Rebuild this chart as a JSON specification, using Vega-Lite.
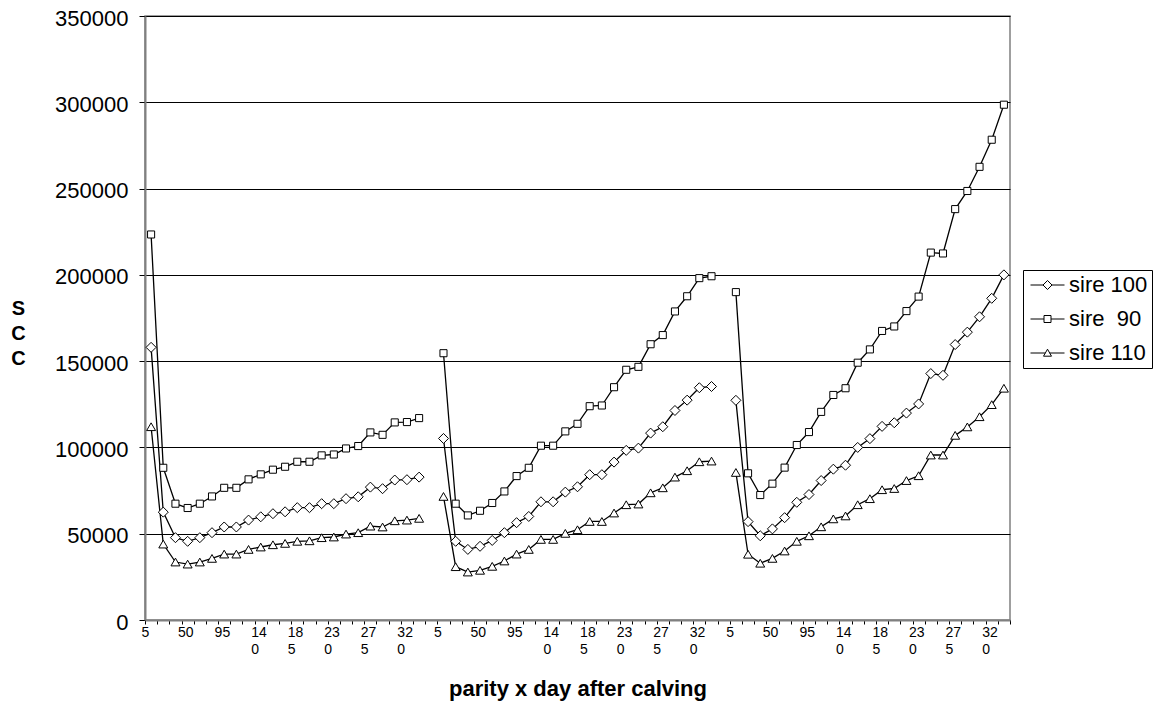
{
  "$schema": "https://vega.github.io/schema/vega-lite/v6.json",
  "width": 865,
  "height": 604,
  "autosize": "none",
  "padding": {"left": 145, "top": 16, "right": 164, "bottom": 85},
  "background": "white",
  "config": {"font": "Liberation Sans", "view": {"stroke": "#808080", "strokeWidth": 1.5}},
  "data": {"values": [
    {"series":"sire 100","parity":1,"day":5,"idx":0,"scc":158000},
    {"series":"sire 100","parity":1,"day":20,"idx":1,"scc":62500},
    {"series":"sire 100","parity":1,"day":35,"idx":2,"scc":47700},
    {"series":"sire 100","parity":1,"day":50,"idx":3,"scc":45600},
    {"series":"sire 100","parity":1,"day":65,"idx":4,"scc":47700},
    {"series":"sire 100","parity":1,"day":80,"idx":5,"scc":50600},
    {"series":"sire 100","parity":1,"day":95,"idx":6,"scc":53900},
    {"series":"sire 100","parity":1,"day":110,"idx":7,"scc":53900},
    {"series":"sire 100","parity":1,"day":125,"idx":8,"scc":57900},
    {"series":"sire 100","parity":1,"day":140,"idx":9,"scc":59800},
    {"series":"sire 100","parity":1,"day":155,"idx":10,"scc":61600},
    {"series":"sire 100","parity":1,"day":170,"idx":11,"scc":62700},
    {"series":"sire 100","parity":1,"day":185,"idx":12,"scc":65100},
    {"series":"sire 100","parity":1,"day":200,"idx":13,"scc":65100},
    {"series":"sire 100","parity":1,"day":215,"idx":14,"scc":67400},
    {"series":"sire 100","parity":1,"day":230,"idx":15,"scc":67400},
    {"series":"sire 100","parity":1,"day":245,"idx":16,"scc":70300},
    {"series":"sire 100","parity":1,"day":260,"idx":17,"scc":71400},
    {"series":"sire 100","parity":1,"day":275,"idx":18,"scc":77000},
    {"series":"sire 100","parity":1,"day":290,"idx":19,"scc":76100},
    {"series":"sire 100","parity":1,"day":305,"idx":20,"scc":81100},
    {"series":"sire 100","parity":1,"day":320,"idx":21,"scc":81300},
    {"series":"sire 100","parity":1,"day":335,"idx":22,"scc":82800},
    {"series":"sire 100","parity":2,"day":5,"idx":24,"scc":105200},
    {"series":"sire 100","parity":2,"day":20,"idx":25,"scc":45600},
    {"series":"sire 100","parity":2,"day":35,"idx":26,"scc":40900},
    {"series":"sire 100","parity":2,"day":50,"idx":27,"scc":42700},
    {"series":"sire 100","parity":2,"day":65,"idx":28,"scc":46100},
    {"series":"sire 100","parity":2,"day":80,"idx":29,"scc":50600},
    {"series":"sire 100","parity":2,"day":95,"idx":30,"scc":56400},
    {"series":"sire 100","parity":2,"day":110,"idx":31,"scc":60000},
    {"series":"sire 100","parity":2,"day":125,"idx":32,"scc":68500},
    {"series":"sire 100","parity":2,"day":140,"idx":33,"scc":68500},
    {"series":"sire 100","parity":2,"day":155,"idx":34,"scc":74100},
    {"series":"sire 100","parity":2,"day":170,"idx":35,"scc":77200},
    {"series":"sire 100","parity":2,"day":185,"idx":36,"scc":84200},
    {"series":"sire 100","parity":2,"day":200,"idx":37,"scc":84200},
    {"series":"sire 100","parity":2,"day":215,"idx":38,"scc":91500},
    {"series":"sire 100","parity":2,"day":230,"idx":39,"scc":98300},
    {"series":"sire 100","parity":2,"day":245,"idx":40,"scc":99600},
    {"series":"sire 100","parity":2,"day":260,"idx":41,"scc":108300},
    {"series":"sire 100","parity":2,"day":275,"idx":42,"scc":112000},
    {"series":"sire 100","parity":2,"day":290,"idx":43,"scc":121400},
    {"series":"sire 100","parity":2,"day":305,"idx":44,"scc":127400},
    {"series":"sire 100","parity":2,"day":320,"idx":45,"scc":134600},
    {"series":"sire 100","parity":2,"day":335,"idx":46,"scc":135300},
    {"series":"sire 100","parity":3,"day":5,"idx":48,"scc":127300},
    {"series":"sire 100","parity":3,"day":20,"idx":49,"scc":57000},
    {"series":"sire 100","parity":3,"day":35,"idx":50,"scc":48800},
    {"series":"sire 100","parity":3,"day":50,"idx":51,"scc":52800},
    {"series":"sire 100","parity":3,"day":65,"idx":52,"scc":59300},
    {"series":"sire 100","parity":3,"day":80,"idx":53,"scc":68200},
    {"series":"sire 100","parity":3,"day":95,"idx":54,"scc":72700},
    {"series":"sire 100","parity":3,"day":110,"idx":55,"scc":80800},
    {"series":"sire 100","parity":3,"day":125,"idx":56,"scc":87400},
    {"series":"sire 100","parity":3,"day":140,"idx":57,"scc":89700},
    {"series":"sire 100","parity":3,"day":155,"idx":58,"scc":100000},
    {"series":"sire 100","parity":3,"day":170,"idx":59,"scc":105100},
    {"series":"sire 100","parity":3,"day":185,"idx":60,"scc":112200},
    {"series":"sire 100","parity":3,"day":200,"idx":61,"scc":114300},
    {"series":"sire 100","parity":3,"day":215,"idx":62,"scc":119900},
    {"series":"sire 100","parity":3,"day":230,"idx":63,"scc":125200},
    {"series":"sire 100","parity":3,"day":245,"idx":64,"scc":142800},
    {"series":"sire 100","parity":3,"day":260,"idx":65,"scc":141800},
    {"series":"sire 100","parity":3,"day":275,"idx":66,"scc":159600},
    {"series":"sire 100","parity":3,"day":290,"idx":67,"scc":166800},
    {"series":"sire 100","parity":3,"day":305,"idx":68,"scc":175700},
    {"series":"sire 100","parity":3,"day":320,"idx":69,"scc":186400},
    {"series":"sire 100","parity":3,"day":335,"idx":70,"scc":200000},
    {"series":"sire  90","parity":1,"day":5,"idx":0,"scc":223400},
    {"series":"sire  90","parity":1,"day":20,"idx":1,"scc":88200},
    {"series":"sire  90","parity":1,"day":35,"idx":2,"scc":67400},
    {"series":"sire  90","parity":1,"day":50,"idx":3,"scc":64900},
    {"series":"sire  90","parity":1,"day":65,"idx":4,"scc":67400},
    {"series":"sire  90","parity":1,"day":80,"idx":5,"scc":71600},
    {"series":"sire  90","parity":1,"day":95,"idx":6,"scc":76600},
    {"series":"sire  90","parity":1,"day":110,"idx":7,"scc":76600},
    {"series":"sire  90","parity":1,"day":125,"idx":8,"scc":81500},
    {"series":"sire  90","parity":1,"day":140,"idx":9,"scc":84400},
    {"series":"sire  90","parity":1,"day":155,"idx":10,"scc":87100},
    {"series":"sire  90","parity":1,"day":170,"idx":11,"scc":88800},
    {"series":"sire  90","parity":1,"day":185,"idx":12,"scc":91700},
    {"series":"sire  90","parity":1,"day":200,"idx":13,"scc":91700},
    {"series":"sire  90","parity":1,"day":215,"idx":14,"scc":95400},
    {"series":"sire  90","parity":1,"day":230,"idx":15,"scc":95900},
    {"series":"sire  90","parity":1,"day":245,"idx":16,"scc":99400},
    {"series":"sire  90","parity":1,"day":260,"idx":17,"scc":100800},
    {"series":"sire  90","parity":1,"day":275,"idx":18,"scc":108700},
    {"series":"sire  90","parity":1,"day":290,"idx":19,"scc":107300},
    {"series":"sire  90","parity":1,"day":305,"idx":20,"scc":114500},
    {"series":"sire  90","parity":1,"day":320,"idx":21,"scc":114700},
    {"series":"sire  90","parity":1,"day":335,"idx":22,"scc":117000},
    {"series":"sire  90","parity":2,"day":5,"idx":24,"scc":154600},
    {"series":"sire  90","parity":2,"day":20,"idx":25,"scc":67400},
    {"series":"sire  90","parity":2,"day":35,"idx":26,"scc":60600},
    {"series":"sire  90","parity":2,"day":50,"idx":27,"scc":63300},
    {"series":"sire  90","parity":2,"day":65,"idx":28,"scc":67800},
    {"series":"sire  90","parity":2,"day":80,"idx":29,"scc":74500},
    {"series":"sire  90","parity":2,"day":95,"idx":30,"scc":83400},
    {"series":"sire  90","parity":2,"day":110,"idx":31,"scc":88200},
    {"series":"sire  90","parity":2,"day":125,"idx":32,"scc":101000},
    {"series":"sire  90","parity":2,"day":140,"idx":33,"scc":101000},
    {"series":"sire  90","parity":2,"day":155,"idx":34,"scc":109300},
    {"series":"sire  90","parity":2,"day":170,"idx":35,"scc":113700},
    {"series":"sire  90","parity":2,"day":185,"idx":36,"scc":123900},
    {"series":"sire  90","parity":2,"day":200,"idx":37,"scc":124300},
    {"series":"sire  90","parity":2,"day":215,"idx":38,"scc":134900},
    {"series":"sire  90","parity":2,"day":230,"idx":39,"scc":145000},
    {"series":"sire  90","parity":2,"day":245,"idx":40,"scc":146700},
    {"series":"sire  90","parity":2,"day":260,"idx":41,"scc":159800},
    {"series":"sire  90","parity":2,"day":275,"idx":42,"scc":165100},
    {"series":"sire  90","parity":2,"day":290,"idx":43,"scc":178800},
    {"series":"sire  90","parity":2,"day":305,"idx":44,"scc":187600},
    {"series":"sire  90","parity":2,"day":320,"idx":45,"scc":198100},
    {"series":"sire  90","parity":2,"day":335,"idx":46,"scc":199200},
    {"series":"sire  90","parity":3,"day":5,"idx":48,"scc":190000},
    {"series":"sire  90","parity":3,"day":20,"idx":49,"scc":85000},
    {"series":"sire  90","parity":3,"day":35,"idx":50,"scc":72400},
    {"series":"sire  90","parity":3,"day":50,"idx":51,"scc":79000},
    {"series":"sire  90","parity":3,"day":65,"idx":52,"scc":88300},
    {"series":"sire  90","parity":3,"day":80,"idx":53,"scc":101400},
    {"series":"sire  90","parity":3,"day":95,"idx":54,"scc":108900},
    {"series":"sire  90","parity":3,"day":110,"idx":55,"scc":120600},
    {"series":"sire  90","parity":3,"day":125,"idx":56,"scc":130400},
    {"series":"sire  90","parity":3,"day":140,"idx":57,"scc":134300},
    {"series":"sire  90","parity":3,"day":155,"idx":58,"scc":149100},
    {"series":"sire  90","parity":3,"day":170,"idx":59,"scc":156800},
    {"series":"sire  90","parity":3,"day":185,"idx":60,"scc":167500},
    {"series":"sire  90","parity":3,"day":200,"idx":61,"scc":170100},
    {"series":"sire  90","parity":3,"day":215,"idx":62,"scc":179000},
    {"series":"sire  90","parity":3,"day":230,"idx":63,"scc":187400},
    {"series":"sire  90","parity":3,"day":245,"idx":64,"scc":212900},
    {"series":"sire  90","parity":3,"day":260,"idx":65,"scc":212400},
    {"series":"sire  90","parity":3,"day":275,"idx":66,"scc":238100},
    {"series":"sire  90","parity":3,"day":290,"idx":67,"scc":248600},
    {"series":"sire  90","parity":3,"day":305,"idx":68,"scc":262600},
    {"series":"sire  90","parity":3,"day":320,"idx":69,"scc":278300},
    {"series":"sire  90","parity":3,"day":335,"idx":70,"scc":298600},
    {"series":"sire 110","parity":1,"day":5,"idx":0,"scc":112000},
    {"series":"sire 110","parity":1,"day":20,"idx":1,"scc":44000},
    {"series":"sire 110","parity":1,"day":35,"idx":2,"scc":33600},
    {"series":"sire 110","parity":1,"day":50,"idx":3,"scc":32400},
    {"series":"sire 110","parity":1,"day":65,"idx":4,"scc":33600},
    {"series":"sire 110","parity":1,"day":80,"idx":5,"scc":35700},
    {"series":"sire 110","parity":1,"day":95,"idx":6,"scc":38200},
    {"series":"sire 110","parity":1,"day":110,"idx":7,"scc":38200},
    {"series":"sire 110","parity":1,"day":125,"idx":8,"scc":40900},
    {"series":"sire 110","parity":1,"day":140,"idx":9,"scc":42300},
    {"series":"sire 110","parity":1,"day":155,"idx":10,"scc":43600},
    {"series":"sire 110","parity":1,"day":170,"idx":11,"scc":44400},
    {"series":"sire 110","parity":1,"day":185,"idx":12,"scc":45600},
    {"series":"sire 110","parity":1,"day":200,"idx":13,"scc":45900},
    {"series":"sire 110","parity":1,"day":215,"idx":14,"scc":47700},
    {"series":"sire 110","parity":1,"day":230,"idx":15,"scc":48100},
    {"series":"sire 110","parity":1,"day":245,"idx":16,"scc":49800},
    {"series":"sire 110","parity":1,"day":260,"idx":17,"scc":50600},
    {"series":"sire 110","parity":1,"day":275,"idx":18,"scc":54400},
    {"series":"sire 110","parity":1,"day":290,"idx":19,"scc":53900},
    {"series":"sire 110","parity":1,"day":305,"idx":20,"scc":57500},
    {"series":"sire 110","parity":1,"day":320,"idx":21,"scc":57900},
    {"series":"sire 110","parity":1,"day":335,"idx":22,"scc":58900},
    {"series":"sire 110","parity":2,"day":5,"idx":24,"scc":71600},
    {"series":"sire 110","parity":2,"day":20,"idx":25,"scc":30900},
    {"series":"sire 110","parity":2,"day":35,"idx":26,"scc":27800},
    {"series":"sire 110","parity":2,"day":50,"idx":27,"scc":28800},
    {"series":"sire 110","parity":2,"day":65,"idx":28,"scc":31100},
    {"series":"sire 110","parity":2,"day":80,"idx":29,"scc":34200},
    {"series":"sire 110","parity":2,"day":95,"idx":30,"scc":38200},
    {"series":"sire 110","parity":2,"day":110,"idx":31,"scc":40900},
    {"series":"sire 110","parity":2,"day":125,"idx":32,"scc":46700},
    {"series":"sire 110","parity":2,"day":140,"idx":33,"scc":46700},
    {"series":"sire 110","parity":2,"day":155,"idx":34,"scc":50200},
    {"series":"sire 110","parity":2,"day":170,"idx":35,"scc":52300},
    {"series":"sire 110","parity":2,"day":185,"idx":36,"scc":57100},
    {"series":"sire 110","parity":2,"day":200,"idx":37,"scc":57100},
    {"series":"sire 110","parity":2,"day":215,"idx":38,"scc":62000},
    {"series":"sire 110","parity":2,"day":230,"idx":39,"scc":66800},
    {"series":"sire 110","parity":2,"day":245,"idx":40,"scc":67200},
    {"series":"sire 110","parity":2,"day":260,"idx":41,"scc":73700},
    {"series":"sire 110","parity":2,"day":275,"idx":42,"scc":76600},
    {"series":"sire 110","parity":2,"day":290,"idx":43,"scc":82800},
    {"series":"sire 110","parity":2,"day":305,"idx":44,"scc":86500},
    {"series":"sire 110","parity":2,"day":320,"idx":45,"scc":91700},
    {"series":"sire 110","parity":2,"day":335,"idx":46,"scc":92100},
    {"series":"sire 110","parity":3,"day":5,"idx":48,"scc":85500},
    {"series":"sire 110","parity":3,"day":20,"idx":49,"scc":38100},
    {"series":"sire 110","parity":3,"day":35,"idx":50,"scc":32900},
    {"series":"sire 110","parity":3,"day":50,"idx":51,"scc":35700},
    {"series":"sire 110","parity":3,"day":65,"idx":52,"scc":40000},
    {"series":"sire 110","parity":3,"day":80,"idx":53,"scc":45600},
    {"series":"sire 110","parity":3,"day":95,"idx":54,"scc":48800},
    {"series":"sire 110","parity":3,"day":110,"idx":55,"scc":54000},
    {"series":"sire 110","parity":3,"day":125,"idx":56,"scc":58600},
    {"series":"sire 110","parity":3,"day":140,"idx":57,"scc":60300},
    {"series":"sire 110","parity":3,"day":155,"idx":58,"scc":66800},
    {"series":"sire 110","parity":3,"day":170,"idx":59,"scc":70300},
    {"series":"sire 110","parity":3,"day":185,"idx":60,"scc":75500},
    {"series":"sire 110","parity":3,"day":200,"idx":61,"scc":76200},
    {"series":"sire 110","parity":3,"day":215,"idx":62,"scc":80800},
    {"series":"sire 110","parity":3,"day":230,"idx":63,"scc":83600},
    {"series":"sire 110","parity":3,"day":245,"idx":64,"scc":95600},
    {"series":"sire 110","parity":3,"day":260,"idx":65,"scc":95600},
    {"series":"sire 110","parity":3,"day":275,"idx":66,"scc":107000},
    {"series":"sire 110","parity":3,"day":290,"idx":67,"scc":111900},
    {"series":"sire 110","parity":3,"day":305,"idx":68,"scc":117800},
    {"series":"sire 110","parity":3,"day":320,"idx":69,"scc":124800},
    {"series":"sire 110","parity":3,"day":335,"idx":70,"scc":134300}
  ]},
  "resolve": {"scale": {"shape": "independent"}},
  "layer": [
    {
      "mark": {"type": "line", "color": "black", "strokeWidth": 1.3},
      "encoding": {
        "x": {
          "field": "idx", "type": "quantitative",
          "scale": {"domain": [-0.5, 70.5], "nice": false, "zero": false},
          "axis": {
            "values": [-0.5,0.5,1.5,2.5,3.5,4.5,5.5,6.5,7.5,8.5,9.5,10.5,11.5,12.5,13.5,14.5,15.5,16.5,17.5,18.5,19.5,20.5,21.5,22.5,23.5,24.5,25.5,26.5,27.5,28.5,29.5,30.5,31.5,32.5,33.5,34.5,35.5,36.5,37.5,38.5,39.5,40.5,41.5,42.5,43.5,44.5,45.5,46.5,47.5,48.5,49.5,50.5,51.5,52.5,53.5,54.5,55.5,56.5,57.5,58.5,59.5,60.5,61.5,62.5,63.5,64.5,65.5,66.5,67.5,68.5,69.5,70.5],
            "tickCount": 200,
            "labelExpr": "(datum.value + 0.5) % 3 == 0 ? ((5 + 15 * ((datum.value + 0.5) % 24)) < 100 ? '' + (5 + 15 * ((datum.value + 0.5) % 24)) : [substring('' + (5 + 15 * ((datum.value + 0.5) % 24)), 0, 2), substring('' + (5 + 15 * ((datum.value + 0.5) % 24)), 2, 3)]) : ''",
            "title": "parity x day after calving",
            "titleFontSize": 22, "titleFontWeight": "bold", "titleColor": "black",
            "titleY": 75, "titleBaseline": "alphabetic",
            "labelFontSize": 14, "labelAlign": "left", "labelOffset": -4, "labelPadding": 1,
            "labelLineHeight": 17, "labelOverlap": false, "labelFlush": false, "labelBound": false,
            "labelColor": "black",
            "tickSize": 4, "tickColor": "black", "tickWidth": 1,
            "domainColor": "#808080", "domainWidth": 2, "grid": false
          }
        },
        "y": {
          "field": "scc", "type": "quantitative",
          "scale": {"domain": [0, 350000], "nice": false},
          "axis": {
            "values": [0, 50000, 100000, 150000, 200000, 250000, 300000, 350000],
            "tickCount": 20,
            "format": "d",
            "labelFontSize": 22, "labelColor": "black", "labelPadding": 11, "labelOffset": 2,
            "tickSize": 6, "tickColor": "black", "tickWidth": 1,
            "domainColor": "#808080", "domainWidth": 2,
            "grid": true, "gridColor": "black", "gridWidth": 1,
            "title": ["S", "C", "C"],
            "titleAngle": 0, "titleFontSize": 20, "titleFontWeight": "bold", "titleLineHeight": 25,
            "titleX": -127, "titleY": 292, "titleAlign": "center", "titleBaseline": "middle",
            "titleColor": "black"
          }
        },
        "detail": [{"field": "series"}, {"field": "parity"}]
      }
    },
    {
      "mark": {"type": "point", "filled": true, "fill": "white", "stroke": "black", "strokeWidth": 1, "opacity": 1},
      "encoding": {
        "x": {"field": "idx", "type": "quantitative"},
        "y": {"field": "scc", "type": "quantitative"},
        "shape": {
          "field": "series", "type": "nominal",
          "scale": {"domain": ["sire 100", "sire  90", "sire 110"], "range": ["diamond", "square", "triangle-up"]},
          "legend": null
        },
        "size": {
          "condition": [
            {"test": "datum.series == 'sire 100'", "value": 100},
            {"test": "datum.series == 'sire  90'", "value": 50}
          ],
          "value": 80
        }
      }
    },
    {
      "transform": [{"filter": "datum.scc < 0"}],
      "mark": {"type": "point", "filled": false, "color": "black", "strokeWidth": 1, "opacity": 1},
      "encoding": {
        "x": {"field": "idx", "type": "quantitative"},
        "y": {"field": "scc", "type": "quantitative"},
        "shape": {
          "field": "series", "type": "nominal",
          "scale": {
            "domain": ["sire 100", "sire  90", "sire 110"],
            "range": [
              "M-0.75,0L0.5,0M1.4,0L2.65,0M0.5,0L0.95,-0.45L1.4,0L0.95,0.45Z",
              "M-0.75,0L0.6,0M1.3,0L2.65,0M0.6,-0.35L1.3,-0.35L1.3,0.35L0.6,0.35Z",
              "M-0.75,0L0.73,0M1.17,0L2.65,0M0.95,-0.38L1.35,0.32L0.55,0.32Z"
            ]
          },
          "legend": {
            "orient": "none", "legendX": 878, "legendY": 254, "title": null,
            "strokeColor": "black", "fillColor": "white", "padding": 4, "rowPadding": 12,
            "labelFontSize": 22, "labelColor": "black", "labelOffset": 20, "labelLimit": 0,
            "symbolSize": 400, "symbolStrokeWidth": 1, "symbolStrokeColor": "black",
            "symbolOpacity": 1,
            "labelExpr": "replace(datum.label, '  ', '\u00a0 ') + '\u00a0\u00a0\u00a0\u00a0'"
          }
        }
      }
    }
  ]
}
